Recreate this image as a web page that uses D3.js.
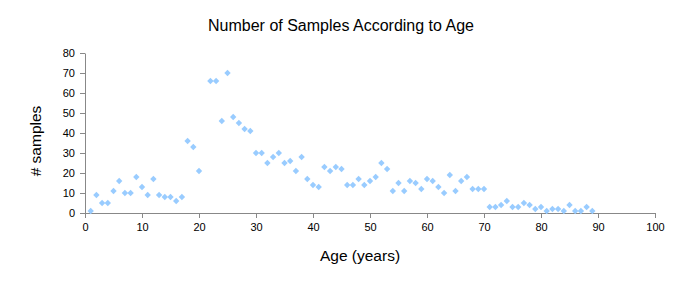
<!DOCTYPE html>
<html>
<head>
<meta charset="utf-8">
<script src="https://cdn.jsdelivr.net/npm/d3@7"></script>
<style>
  body { margin: 0; background: #fff; }
  svg { display: block; font-family: "Liberation Sans", Arial, sans-serif; }
</style>
</head>
<body>
<div id="chart"></div>
<script>
const ages = [
  1, 2, 3, 4, 5, 6, 7, 8, 9, 10, 11, 12, 13, 14, 15, 16, 17, 18, 19, 20,
  22, 23, 24, 25, 26, 27, 28, 29, 30, 31, 32, 33, 34, 35, 36, 37, 38, 39, 40,
  41, 42, 43, 44, 45, 46, 47, 48, 49, 50, 51, 52, 53, 54, 55, 56, 57, 58, 59, 60,
  61, 62, 63, 64, 65, 66, 67, 68, 69, 70, 71, 72, 73, 74, 75, 76, 77, 78, 79, 80,
  81, 82, 83, 84, 85, 86, 87, 88, 89
];
const samples = [
  1, 9, 5, 5, 11, 16, 10, 10, 18, 13, 9, 17, 9, 8, 8, 6, 8, 36, 33, 21,
  66, 66, 46, 70, 48, 45, 42, 41, 30, 30, 25, 28, 30, 25, 26, 21, 28, 17, 14,
  13, 23, 21, 23, 22, 14, 14, 17, 14, 16, 18, 25, 22, 11, 15, 11, 16, 15, 12, 17,
  16, 13, 10, 19, 11, 16, 18, 12, 12, 12, 3, 3, 4, 6, 3, 3, 5, 4, 2, 3,
  1, 2, 2, 1, 4, 1, 1, 3, 1
];
const xTicks = [0, 10, 20, 30, 40, 50, 60, 70, 80, 90, 100];
const yTicks = [0, 10, 20, 30, 40, 50, 60, 70, 80];

const width = 677;
const height = 288;
const margin = { top: 53, right: 22, bottom: 75, left: 85 };

const points = ages.map((age, i) => ({ age, count: samples[i] }));

const x = d3.scaleLinear()
  .domain([0, 100])
  .range([margin.left, width - margin.right]);
const y = d3.scaleLinear()
  .domain([0, 80])
  .range([height - margin.bottom, margin.top]);

const svg = d3.select('#chart')
  .append('svg')
  .attr('width', width)
  .attr('height', height);

const styleAxis = (g) => {
  g.selectAll('.domain').attr('stroke', '#888');
  g.selectAll('.tick line').attr('stroke', '#888');
  g.selectAll('.tick text')
    .attr('fill', '#000')
    .attr('font-size', 11)
    .attr('font-family', '"Liberation Sans", Arial, sans-serif');
};

svg.append('g')
  .attr('transform', `translate(0, ${y(0)})`)
  .call(d3.axisBottom(x).tickValues(xTicks).tickSize(5).tickSizeOuter(0).tickPadding(5))
  .call(styleAxis);

svg.append('g')
  .attr('transform', `translate(${x(0)}, 0)`)
  .call(d3.axisLeft(y).tickValues(yTicks).tickSize(5).tickSizeOuter(0).tickPadding(5))
  .call(styleAxis);

const diamond = d3.symbol().type(d3.symbolDiamond2).size(26);

svg.append('g')
  .selectAll('path')
  .data(points)
  .join('path')
  .attr('transform', (d) => `translate(${x(d.age)}, ${y(d.count)})`)
  .attr('d', diamond)
  .attr('fill', '#99ccff');

svg.append('text')
  .attr('x', 341)
  .attr('y', 31)
  .attr('text-anchor', 'middle')
  .attr('font-size', 16)
  .text('Number of Samples According to Age');

svg.append('text')
  .attr('x', 360)
  .attr('y', 261)
  .attr('text-anchor', 'middle')
  .attr('font-size', 15.5)
  .text('Age (years)');

svg.append('text')
  .attr('transform', 'translate(41, 141) rotate(-90)')
  .attr('text-anchor', 'middle')
  .attr('font-size', 15.5)
  .text('# samples');
</script>
</body>
</html>
